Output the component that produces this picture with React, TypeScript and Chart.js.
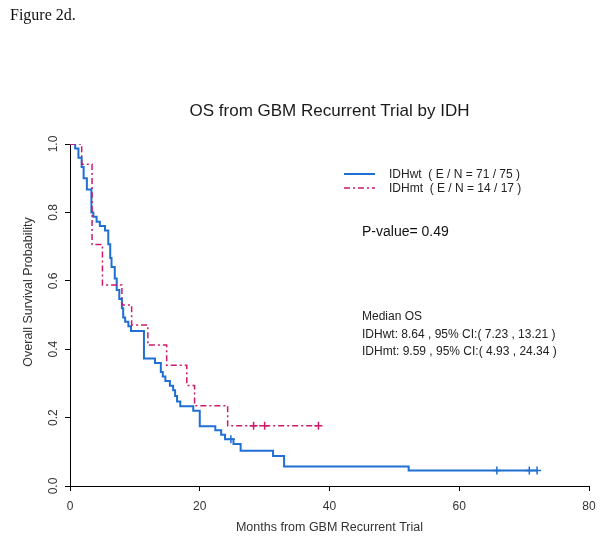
import React, { useEffect, useRef } from 'react';
import { Chart, registerables } from 'chart.js';

Chart.register(...registerables);

// ---- data ----
const xTicks = [0, 20, 40, 60, 80];
const yTicks = [0, 0.2, 0.4, 0.6, 0.8, 1.0];

// IDHwt Kaplan-Meier steps (time in months, survival after the step)
const wtTimes = [0, 0.8, 1.3, 1.8, 2.1, 2.6, 3.3, 3.6, 4.1, 4.6, 5.4, 5.9, 6.2, 6.4, 6.9, 7.2, 7.6, 8.0, 8.2, 8.5, 9.0, 9.4, 11.4, 13.1, 14.0, 14.3, 14.7, 15.4, 15.9, 16.2, 16.5, 17.0, 19.0, 20.0, 22.4, 23.3, 23.9, 25.2, 26.3, 31.3, 33.0, 52.2, 72.0];
const wtSurv = [1.0, 0.987, 0.96, 0.933, 0.9, 0.867, 0.8, 0.787, 0.773, 0.76, 0.747, 0.707, 0.667, 0.64, 0.607, 0.573, 0.547, 0.52, 0.493, 0.48, 0.467, 0.453, 0.373, 0.36, 0.333, 0.32, 0.307, 0.293, 0.28, 0.263, 0.247, 0.233, 0.22, 0.175, 0.163, 0.15, 0.137, 0.123, 0.103, 0.088, 0.057, 0.045, 0.045];
const wtCensorTimes = [24.8, 65.8, 70.8, 72.0];
const wtCensorSurv = [0.137, 0.045, 0.045, 0.045];

// IDHmt Kaplan-Meier steps
const mtTimes = [0, 1.8, 3.4, 5.0, 8.0, 9.5, 12.0, 14.9, 18.0, 19.2, 24.3, 38.3];
const mtSurv = [1.0, 0.941, 0.706, 0.588, 0.529, 0.471, 0.412, 0.353, 0.294, 0.235, 0.176, 0.176];
const mtCensorTimes = [28.3, 30.0, 38.3];
const mtCensorSurv = [0.176, 0.176, 0.176];

const seriesNames = ['IDHwt', 'IDHmt'];
const legendLabels = ['IDHwt  ( E / N = 71 / 75 )', 'IDHmt  ( E / N = 14 / 17 )'];
const figureLabel = 'Figure 2d.';
const titleText = 'OS from GBM Recurrent Trial by IDH';
const xTitle = 'Months from GBM Recurrent Trial';
const yTitle = 'Overall Survival Probability';
const pValueText = 'P-value= 0.49';
const medianLines = ['Median OS', 'IDHwt: 8.64 , 95% CI:( 7.23 , 13.21 )', 'IDHmt: 9.59 , 95% CI:( 4.93 , 24.34 )'];

const BLUE = '#1f6fd4';
const RED = '#cc1a6c';
const SANS = '"Liberation Sans", Arial, sans-serif';
const RED_DASH = [6, 3, 2, 3];

const toPoints = (xs: number[], ys: number[]) => xs.map((x, i) => ({ x, y: ys[i] }));

const textPlugin = {
  id: 'figureTexts',
  afterDraw(chart: any) {
    const ctx = chart.ctx as CanvasRenderingContext2D;
    const ca = chart.chartArea;
    ctx.save();
    // figure label
    ctx.fillStyle = '#111';
    ctx.font = '16px "Liberation Serif", "Times New Roman", serif';
    ctx.textAlign = 'left';
    ctx.textBaseline = 'alphabetic';
    ctx.fillText(figureLabel, 10, 20);

    // main title
    ctx.fillStyle = '#1a1a1a';
    ctx.font = '17px ' + SANS;
    ctx.textAlign = 'center';
    ctx.textBaseline = 'middle';
    ctx.fillText(titleText, (ca.left + ca.right) / 2, 111);

    // axis titles
    ctx.fillStyle = '#333';
    ctx.font = '12.5px ' + SANS;
    ctx.fillText(xTitle, (ca.left + ca.right) / 2, 528);
    ctx.save();
    ctx.translate(29, 292);
    ctx.rotate(-Math.PI / 2);
    ctx.fillText(yTitle, 0, 0);
    ctx.restore();

    // legend
    ctx.lineWidth = 2;
    ctx.strokeStyle = BLUE;
    ctx.setLineDash([]);
    ctx.beginPath();
    ctx.moveTo(344, 174);
    ctx.lineTo(375, 174);
    ctx.stroke();
    ctx.lineWidth = 1.5;
    ctx.strokeStyle = RED;
    ctx.setLineDash(RED_DASH);
    ctx.beginPath();
    ctx.moveTo(344, 188);
    ctx.lineTo(375, 188);
    ctx.stroke();
    ctx.setLineDash([]);

    ctx.fillStyle = '#222';
    ctx.font = '12px ' + SANS;
    ctx.textAlign = 'left';
    ctx.textBaseline = 'middle';
    ctx.fillText(legendLabels[0], 389, 175);
    ctx.fillText(legendLabels[1], 389, 189);

    // p-value
    ctx.font = '14px ' + SANS;
    ctx.fillStyle = '#111';
    ctx.fillText(pValueText, 362, 232);

    // median OS
    ctx.font = '12px ' + SANS;
    ctx.fillStyle = '#222';
    medianLines.forEach((t, i) => ctx.fillText(t, 362, 317 + i * 17.5));
    ctx.restore();
  },
};

export default function App() {
  const canvasRef = useRef<HTMLCanvasElement | null>(null);

  useEffect(() => {
    if (!canvasRef.current) return;
    const chart = new Chart(canvasRef.current, {
      type: 'line',
      data: {
        datasets: [
          {
            label: seriesNames[1],
            data: toPoints(mtTimes, mtSurv),
            borderColor: RED,
            borderWidth: 1.5,
            borderDash: RED_DASH,
            stepped: 'before',
            pointRadius: 0,
            fill: false,
            order: 0,
          },
          {
            label: seriesNames[1] + ' censored',
            data: toPoints(mtCensorTimes, mtCensorSurv),
            showLine: false,
            pointStyle: 'cross',
            pointRadius: 4,
            pointBorderWidth: 1.5,
            borderColor: RED,
            pointBorderColor: RED,
            order: 0,
          },
          {
            label: seriesNames[0],
            data: toPoints(wtTimes, wtSurv),
            borderColor: BLUE,
            borderWidth: 2,
            stepped: 'before',
            pointRadius: 0,
            fill: false,
            order: 1,
          },
          {
            label: seriesNames[0] + ' censored',
            data: toPoints(wtCensorTimes, wtCensorSurv),
            showLine: false,
            pointStyle: 'cross',
            pointRadius: 4,
            pointBorderWidth: 1.5,
            borderColor: BLUE,
            pointBorderColor: BLUE,
            order: 1,
          },
        ],
      },
      options: {
        responsive: false,
        animation: false,
        layout: { padding: { top: 144, left: 0, right: 20, bottom: 21 } },
        plugins: {
          legend: { display: false },
          title: { display: false },
          tooltip: { enabled: false },
        },
        scales: {
          x: {
            type: 'linear',
            min: 0,
            max: 80,
            afterBuildTicks: (scale: any) => {
              scale.ticks = xTicks.map((v) => ({ value: v }));
            },
            afterFit: (scale: any) => {
              scale.height = 40;
            },
            grid: {
              display: true,
              drawOnChartArea: false,
              drawTicks: true,
              tickLength: 5,
              color: '#000',
              lineWidth: 1,
            },
            border: { display: true, color: '#000', width: 1 },
            ticks: {
              color: '#333',
              font: { family: SANS, size: 12 },
              padding: 8,
              maxRotation: 0,
              autoSkip: false,
              callback: (v: any) => String(v),
            },
          },
          y: {
            type: 'linear',
            min: 0,
            max: 1,
            afterBuildTicks: (scale: any) => {
              scale.ticks = yTicks.map((v) => ({ value: v }));
            },
            afterFit: (scale: any) => {
              scale.width = 70;
            },
            grid: {
              display: true,
              drawOnChartArea: false,
              drawTicks: true,
              tickLength: 5,
              color: '#000',
              lineWidth: 1,
            },
            border: { display: true, color: '#000', width: 1 },
            ticks: {
              color: '#333',
              font: { family: SANS, size: 12 },
              padding: 3,
              minRotation: 90,
              maxRotation: 90,
              crossAlign: 'center',
              autoSkip: false,
              callback: (v: any) => Number(v).toFixed(1),
            },
          },
        },
      },
      plugins: [textPlugin],
    } as any);
    return () => chart.destroy();
  }, []);

  return (
    <div style={{ position: 'absolute', left: 0, top: 0, width: 609, height: 547, background: '#fff' }}>
      <canvas ref={canvasRef} width={609} height={547} style={{ display: 'block' }} />
    </div>
  );
}
